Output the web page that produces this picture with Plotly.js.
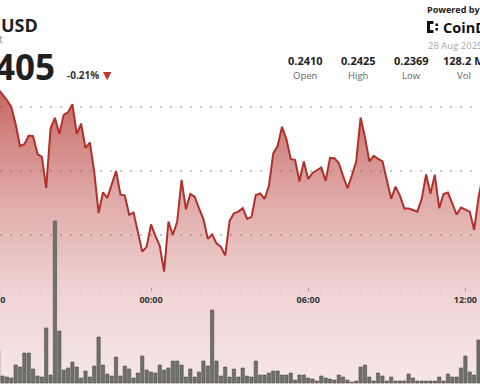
<!DOCTYPE html>
<html><head><meta charset="utf-8">
<script src="https://cdn.plot.ly/plotly-3.0.1.min.js"></script>
<style>
html,body{margin:0;padding:0;overflow:hidden;width:480px;height:384px;background:#fff}
#chart{position:absolute;left:-60px;top:0;width:600px;height:384px}
</style></head><body><div id="chart"></div>
<script>
const times = [
"2025-08-27 18:10","2025-08-27 18:20","2025-08-27 18:30","2025-08-27 18:40","2025-08-27 18:50",
"2025-08-27 19:00","2025-08-27 19:10","2025-08-27 19:20","2025-08-27 19:30","2025-08-27 19:40","2025-08-27 19:50",
"2025-08-27 20:00","2025-08-27 20:10","2025-08-27 20:20","2025-08-27 20:30","2025-08-27 20:40","2025-08-27 20:50",
"2025-08-27 21:00","2025-08-27 21:10","2025-08-27 21:20","2025-08-27 21:30","2025-08-27 21:40","2025-08-27 21:50",
"2025-08-27 22:00","2025-08-27 22:10","2025-08-27 22:20","2025-08-27 22:30","2025-08-27 22:40","2025-08-27 22:50",
"2025-08-27 23:00","2025-08-27 23:10","2025-08-27 23:20","2025-08-27 23:30","2025-08-27 23:40","2025-08-27 23:50",
"2025-08-28 00:00","2025-08-28 00:10","2025-08-28 00:20","2025-08-28 00:30","2025-08-28 00:40","2025-08-28 00:50",
"2025-08-28 01:00","2025-08-28 01:10","2025-08-28 01:20","2025-08-28 01:30","2025-08-28 01:40","2025-08-28 01:50",
"2025-08-28 02:00","2025-08-28 02:10","2025-08-28 02:20","2025-08-28 02:30","2025-08-28 02:40","2025-08-28 02:50",
"2025-08-28 03:00","2025-08-28 03:10","2025-08-28 03:20","2025-08-28 03:30","2025-08-28 03:40","2025-08-28 03:50",
"2025-08-28 04:00","2025-08-28 04:10","2025-08-28 04:20","2025-08-28 04:30","2025-08-28 04:40","2025-08-28 04:50",
"2025-08-28 05:00","2025-08-28 05:10","2025-08-28 05:20","2025-08-28 05:30","2025-08-28 05:40","2025-08-28 05:50",
"2025-08-28 06:00","2025-08-28 06:10","2025-08-28 06:20","2025-08-28 06:30","2025-08-28 06:40","2025-08-28 06:50",
"2025-08-28 07:00","2025-08-28 07:10","2025-08-28 07:20","2025-08-28 07:30","2025-08-28 07:40","2025-08-28 07:50",
"2025-08-28 08:00","2025-08-28 08:10","2025-08-28 08:20","2025-08-28 08:30","2025-08-28 08:40","2025-08-28 08:50",
"2025-08-28 09:00","2025-08-28 09:10","2025-08-28 09:20","2025-08-28 09:30","2025-08-28 09:40","2025-08-28 09:50",
"2025-08-28 10:00","2025-08-28 10:10","2025-08-28 10:20","2025-08-28 10:30","2025-08-28 10:40","2025-08-28 10:50",
"2025-08-28 11:00","2025-08-28 11:10","2025-08-28 11:20","2025-08-28 11:30","2025-08-28 11:40","2025-08-28 11:50",
"2025-08-28 12:00","2025-08-28 12:10","2025-08-28 12:20","2025-08-28 12:30","2025-08-28 12:40"
];
const prices = [
0.24256,0.24238,0.24222,0.24200,0.24147,0.24078,0.24084,0.24111,0.24109,0.24053,
0.24044,0.23947,0.24134,0.24166,0.24116,0.24175,0.24184,0.24209,0.24116,0.24148,
0.24072,0.24089,0.23997,0.23869,0.23933,0.23916,0.23959,0.24000,0.23927,0.23923,
0.23863,0.23870,0.23809,0.23748,0.23763,
0.23833,0.23797,0.23766,0.23686,0.23842,0.23800,0.23842,0.23972,0.23880,0.23928,
0.23920,0.23883,0.23850,0.23788,0.23802,0.23774,0.23763,0.23736,0.23844,0.23868,
0.23873,0.23884,0.23851,0.23856,0.23925,0.23930,0.23913,0.23953,0.24055,0.24078,
0.24138,0.24100,0.24038,0.24034,0.23967,0.24030,0.23975,0.23994,0.24002,0.24011,
0.23969,0.24041,0.24040,0.24025,0.23984,0.23946,0.23986,0.24030,0.24167,0.24106,
0.24030,0.24047,0.24038,0.24031,0.23972,0.23913,0.23951,0.23923,0.23883,0.23883,
0.23878,0.23873,0.23913,0.23989,0.23930,0.23988,0.23884,0.23928,0.23933,0.23900,
0.23864,0.23886,0.23880,0.23873,0.23816,0.23916,0.23988
];
const volumesM = [
3.3,0.7,0.6,0.5,1.8,1.6,3.0,3.0,1.4,0.7,
0.6,5.5,0.8,16.2,5.2,1.3,1.5,2.1,1.6,0.5,
1.2,0.6,1.7,4.6,1.8,0.9,0.7,2.6,0.7,1.7,
1.4,0.5,1.0,2.7,1.3,
1.1,1.0,1.8,1.3,1.5,2.2,2.2,1.8,0.6,1.4,
0.6,1.1,2.2,1.7,7.3,2.2,0.7,1.6,0.6,1.4,
0.6,1.5,0.7,0.6,2.2,0.8,0.8,1.0,1.2,1.2,
0.8,0.8,1.0,0.3,0.8,0.8,0.5,0.4,0.2,0.7,
0.5,0.4,0.3,0.8,0.6,0.3,0.1,0.2,1.6,1.8,
0.6,0.2,1.0,0.7,0.2,0.6,0.2,0.2,0.2,0.9,
0.5,0.2,0.2,0.2,0.2,0.2,0.6,0.2,0.9,0.6,
0.6,1.5,2.7,1.1,0.8,4.3,1.7
];
const tickTimes = ["2025-08-27 18:00","2025-08-28 00:00","2025-08-28 06:00","2025-08-28 12:00"];
const tickLabels = ["18:00","00:00","06:00","12:00"];
const priceGrid = [0.238, 0.240, 0.242];
const statValues = ["0.2410","0.2425","0.2369","128.2 M"];
const statLabels = ["Open","High","Low","Vol"];
const lastPrice = "0.2405";
const changePct = "-0.21%";
const dateText = "28 Aug 2025";

const W = 600, H = 384, OFF = 60;
const fx = v => (v + OFF) / W;
const fy = y => 1 - y / H;
const FONT = "Open Sans";

const statX = [305.5, 358.5, 411.5, 464];
const annotations = [
  {text:"USD", x:fx(-1), y:fy(25), xanchor:"left", yanchor:"middle", font:{family:FONT,size:18,color:"#1f1f1f",weight:700}},
  {text:"Chart", x:fx(5), y:fy(39), xanchor:"right", yanchor:"middle", font:{family:FONT,size:10,color:"#8a8a8a"}},
  {text:lastPrice, x:fx(57), y:fy(66), xanchor:"right", yanchor:"middle", font:{family:FONT,size:35,color:"#1f1f1f",weight:700}},
  {text:changePct, x:fx(65), y:fy(75), xanchor:"left", yanchor:"middle", font:{family:FONT,size:10,color:"#333",weight:700}},
  {text:"▼", x:fx(107), y:fy(75), xanchor:"center", yanchor:"middle", font:{family:"DejaVu Sans",size:11,color:"#c0392b"}},
  {text:"Powered by", x:fx(425), y:fy(10), xanchor:"left", yanchor:"middle", font:{family:FONT,size:9,color:"#222",weight:700}},
  {text:"CoinDesk", x:fx(441), y:fy(27), xanchor:"left", yanchor:"middle", font:{family:FONT,size:14.5,color:"#111",weight:700}},
  {text:dateText, x:fx(426), y:fy(46), xanchor:"left", yanchor:"middle", font:{family:FONT,size:9.5,color:"#a8a8a8"}}
];
statValues.forEach((v,i)=>{
  annotations.push({text:v, x:fx(statX[i]), y:fy(61), xanchor:"center", yanchor:"middle", font:{family:FONT,size:11,color:"#222",weight:700}});
  annotations.push({text:statLabels[i], x:fx(statX[i]), y:fy(75), xanchor:"center", yanchor:"middle", font:{family:FONT,size:9.5,color:"#666"}});
});
annotations.forEach(a=>{a.xref="paper";a.yref="paper";a.showarrow=false;});

const logo = (x0,y0,x1,y1)=>({type:"rect",xref:"paper",yref:"paper",x0:fx(x0),x1:fx(x1),y0:fy(y1),y1:fy(y0),fillcolor:"#111",line:{width:0},layer:"above"});
const shapes = [
  {type:"line",xref:"paper",yref:"paper",x0:0,x1:1,y0:fy(291),y1:fy(291),line:{color:"#c8c8c8",width:1.3,dash:"1.5px,8.5px"},layer:"above"},
  logo(427,21,430,33), logo(430,21,433.5,24), logo(430,30,433.5,33),
  logo(435.5,23.5,438,26), logo(435.5,28,438,30.5)
];

const traces = [
  {type:"scatter", x:times, y:prices, mode:"lines", line:{color:"#b0302a", width:2},
   fill:"tozeroy",
   fillgradient:{type:"vertical", start:0.2333, stop:0.2426,
     colorscale:[[0,"rgba(180,55,50,0.12)"],[0.32,"rgba(180,55,50,0.22)"],[0.62,"rgba(180,55,50,0.42)"],[0.86,"rgba(180,55,50,0.63)"],[1,"rgba(180,55,50,0.77)"]]},
   hoverinfo:"skip"},
  {type:"bar", x:times, y:volumesM, yaxis:"y2", width:450000,
   marker:{color:"#6f716d", line:{color:"#4c4d4a", width:0.6}}, hoverinfo:"skip"}
];

const layout = {
  width:W, height:H, margin:{l:0,r:0,t:0,b:0}, showlegend:false,
  paper_bgcolor:"#ffffff", plot_bgcolor:"#ffffff", bargap:0,
  xaxis:{type:"date", range:["2025-08-27 15:56:48","2025-08-28 14:50:50"],
    tickvals:tickTimes, ticktext:tickLabels, showgrid:false, zeroline:false, showline:false,
    anchor:"free", position:fy(291), ticks:"inside", ticklen:3, tickwidth:1, tickcolor:"#999",
    ticklabelstandoff:2,
    tickfont:{family:FONT, size:9, color:"#333", weight:700}},
  yaxis:{range:[0.23334375,0.24534375], tickvals:priceGrid, showticklabels:false, ticks:"",
    showgrid:true, gridcolor:"#c8c8c8", gridwidth:1.3, griddash:"1.5px,8.5px", zeroline:false, showline:false},
  yaxis2:{overlaying:"y", range:[-0.1,38.3], visible:false},
  shapes:shapes, annotations:annotations
};
Plotly.newPlot("chart", traces, layout, {staticPlot:true, displayModeBar:false});
</script></body></html>
